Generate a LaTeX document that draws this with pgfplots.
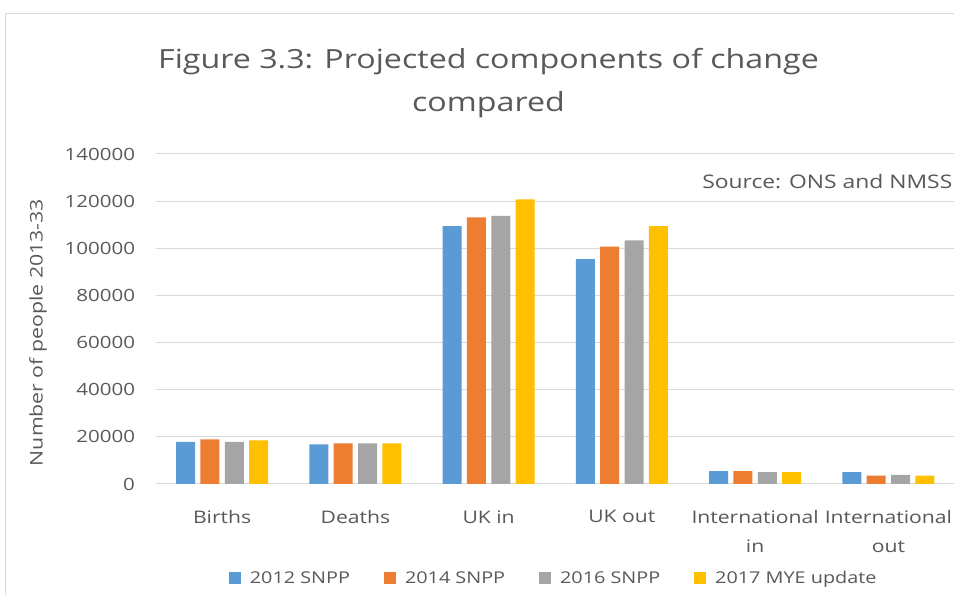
\documentclass[border=0pt]{standalone}
\usepackage{fontspec}
\setmainfont{Open Sans}
\newfontfamily\cf[FakeStretch=1.22]{Open Sans}
\usepackage{pgfplots}
\pgfplotsset{compat=1.18}
\definecolor{cA}{HTML}{5B9BD5}
\definecolor{cB}{HTML}{ED7D31}
\definecolor{cC}{HTML}{A5A5A5}
\definecolor{cD}{HTML}{FFC000}
\definecolor{txt}{HTML}{595959}
\definecolor{gridc}{HTML}{D9D9D9}
\begin{document}
\begin{tikzpicture}[x=1bp,y=1bp]
\useasboundingbox (0,0) rectangle (954,595);
\clip (0,0) rectangle (954,595);
\fill[white] (0,0) rectangle (954,595);
\draw[gridc, line width=1.2bp] (5.5,-5) -- (5.5,581.5) -- (960,581.5);
\node[anchor=base, font=\cf\fontsize{26.5}{30}\selectfont, text=txt] at (488.5,526) {Figure 3.3: Projected components of change};
\node[anchor=base, font=\cf\fontsize{26.5}{30}\selectfont, text=txt] at (488.5,483) {compared};
\node[anchor=base east, font=\cf\fontsize{18.8}{22}\selectfont, text=txt, inner sep=0pt] at (952.5,406) {Source: ONS and NMSS};
\begin{axis}[
  at={(155.5bp,111bp)}, anchor=south west,
  width=799.5bp, height=330bp, scale only axis,
  xmin=-0.5, xmax=5.5, ymin=0, ymax=140000,
  ytick={0,20000,40000,60000,80000,100000,120000,140000},
  yticklabels={0,20000,40000,60000,80000,100000,120000,140000},
  xtick={0,1,2,3,4,5},
  xticklabels={Births,Deaths,UK in,UK out,{International\\in},{International\\out}},
  ymajorgrids, grid style={gridc, line width=1bp},
  axis lines*=left,
  x axis line style={gridc, line width=1bp},
  y axis line style={draw=none},
  major tick length=0pt,
  scaled y ticks=false,
  yticklabel style={font=\cf\fontsize{16.9}{20}\selectfont, text=txt, xshift=-17bp},
  xticklabel style={font=\cf\fontsize{17.4}{29}\selectfont, text=txt, align=center, yshift=-23bp},
  ylabel={Number of people 2013-33},
  ylabel style={font=\cf\fontsize{17.5}{20}\selectfont, text=txt, at={(axis description cs:-0.147,0.459)}, anchor=center},
  ybar=5.3bp, bar width=19bp,
  legend style={at={(0.498,-0.285)}, anchor=center, legend columns=4, draw=none, fill=none,
    font=\cf\fontsize{16.3}{20}\selectfont, text=txt,
    /tikz/every even column/.append style={column sep=32bp}},
  legend image code/.code={\fill[#1] (0bp,-6bp) rectangle (12bp,6bp); \path (19bp,0bp);},
]
\addplot[fill=cA, draw=none] coordinates {(0,17900) (1,16800) (2,109400) (3,95400) (4,5500) (5,5000)};
\addplot[fill=cB, draw=none] coordinates {(0,18900) (1,17200) (2,113100) (3,100700) (4,5500) (5,3500)};
\addplot[fill=cC, draw=none] coordinates {(0,17900) (1,17200) (2,113700) (3,103400) (4,5000) (5,3900)};
\addplot[fill=cD, draw=none] coordinates {(0,18500) (1,17200) (2,120700) (3,109400) (4,5000) (5,3500)};
\legend{2012 SNPP,2014 SNPP,2016 SNPP,2017 MYE update}
\end{axis}
\end{tikzpicture}
\end{document}
